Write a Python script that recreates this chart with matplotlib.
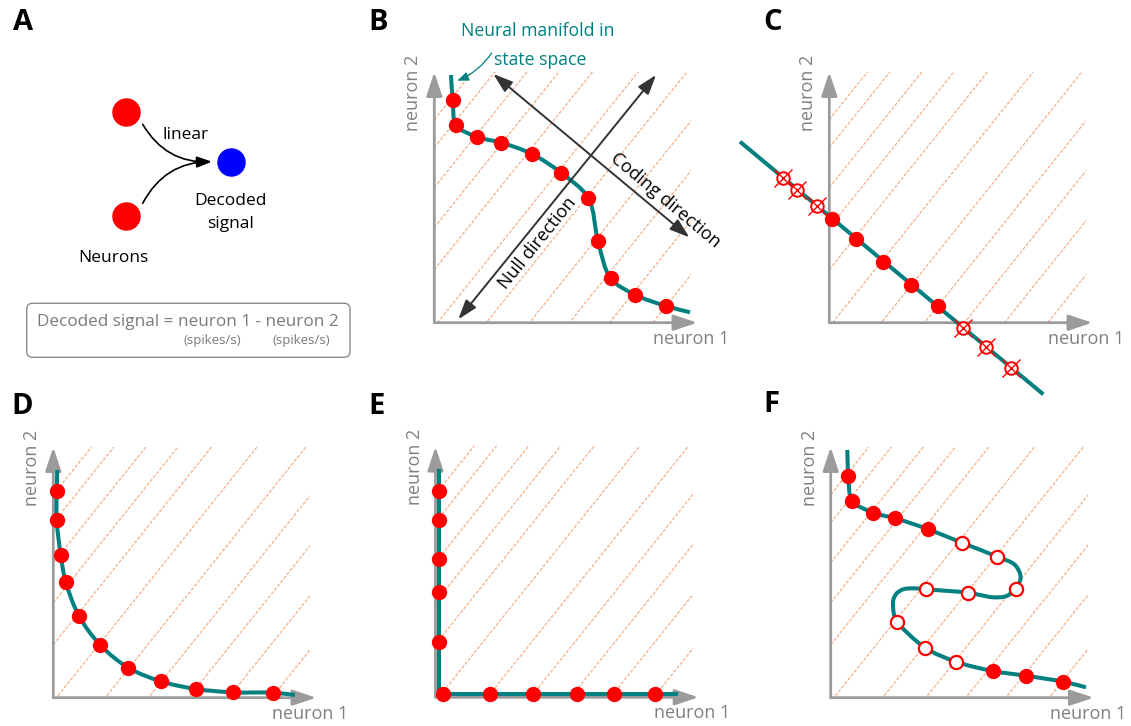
import numpy as np
import matplotlib
matplotlib.use("Agg")
import matplotlib.pyplot as plt
from matplotlib.path import Path
from matplotlib.patches import PathPatch, FancyArrowPatch, FancyBboxPatch, Rectangle

plt.rcParams['font.family'] = ['Open Sans', 'DejaVu Sans']

W, H = 1131, 726
TEAL = '#008080'
RED = '#ff0000'
BLUE = '#0000ff'
AXIS_GREY = '#9b9b9b'
LABEL_GREY = '#808080'
HATCH_ORANGE = '#f2a87c'

# ---------------- data (firing rates, arbitrary units) ----------------
# Level sets of the decoder drawn as background hatching
hatch_slope = 1.25
hatch_offsets = [20.3, 17.5, 13.5, 9.5, 5.3, -0.4, -6.5, -11.9, -16.9, -21.9, -27.3]
hatch_extent = (25.7, 25.1)
axis_extent = (26.3, 25.05)

# A: two neurons feeding a linear decoder
neuron_x = [126, 126]
neuron_y = [112.3, 215.7]
decoded_x = [231.3]
decoded_y = [161.7]

# B: curved manifold
b_n1 = [1.84, 2.2, 4.3, 6.7, 9.77, 12.7, 15.4, 16.37, 17.64, 20.07, 23.17]
b_n2 = [22.27, 19.74, 18.57, 18.0, 16.87, 14.97, 12.47, 8.14, 4.44, 2.8, 1.67]
b_start = (1.67, 24.77)
b_end = (25.57, 1.04)

# C: linear manifold crossing the axes
c_line_n1 = [-8.93, 21.4]
c_line_n2 = [18.1, -7.16]
c_valid_n1 = [0.24, 2.7, 5.4, 8.2, 10.84]
c_valid_n2 = [10.37, 8.37, 6.1, 3.77, 1.67]
c_invalid_n1 = [-4.66, -3.23, -1.26, 13.4, 15.64, 18.14]
c_invalid_n2 = [14.44, 13.27, 11.67, -0.56, -2.4, -4.5]

# D: hyperbolic manifold
d_n1 = [0.34, 0.34, 0.74, 1.24, 2.57, 4.7, 7.5, 10.74, 14.27, 17.94, 22.0]
d_n2 = [20.67, 17.77, 14.27, 11.6, 8.17, 5.27, 3.0, 1.64, 0.87, 0.54, 0.5]
d_start = (0.4, 22.77)
d_end = (24.17, 0.27)

# E: one neuron silent at a time
e_line_n1 = [0.35, 0.35, 24.28]
e_line_n2 = [22.8, 0.33, 0.33]
e_n1 = [0.35, 0.35, 0.35, 0.35, 0.35, 0.72, 5.45, 9.78, 14.12, 17.88, 21.95]
e_n2 = [20.63, 17.73, 13.83, 10.56, 5.5, 0.33, 0.33, 0.33, 0.33, 0.33, 0.33]

# F: folded manifold
f_curve_n1 = [1.66, 1.76, 2.16, 4.26, 6.46, 9.76, 13.1, 16.66, 18.43, 18.99, 18.76,
              18.5, 17.6, 16.26, 14.93, 13.7, 9.5, 8.26, 7.26, 6.6, 6.26, 6.26, 6.43,
              6.66, 9.43, 12.53, 16.2, 19.5, 23.23, 25.53]
f_curve_n2 = [24.77, 22.2, 19.7, 18.5, 17.94, 16.84, 15.5, 14.1, 13.27, 12.1, 11.27,
              10.9, 10.17, 10.04, 10.27, 10.5, 10.84, 10.94, 10.84, 10.44, 9.77, 8.77, 7.94,
              7.54, 5.0, 3.6, 2.67, 2.2, 1.6, 1.04]
f_single_n1 = [1.76, 2.16, 4.26, 6.46, 9.76, 16.2, 19.5, 23.23]
f_single_n2 = [22.2, 19.7, 18.5, 17.94, 16.84, 2.67, 2.2, 1.6]
f_ambig_n1 = [13.1, 16.66, 18.5, 13.7, 9.5, 6.66, 9.43, 12.53]
f_ambig_n2 = [15.5, 14.1, 10.9, 10.5, 10.84, 7.54, 5.0, 3.6]

# ---------------- helpers ----------------
fig = plt.figure(figsize=(W / 100, H / 100), dpi=100)

XLIM = (-10, 28)
YLIM = (-8, 32)
SCALE = 10.0  # pixels per unit


def panel_axes(ox, oy):
    left = (ox + XLIM[0] * SCALE) / W
    bottom = (H - oy + YLIM[0] * SCALE) / H
    width = (XLIM[1] - XLIM[0]) * SCALE / W
    height = (YLIM[1] - YLIM[0]) * SCALE / H
    ax = fig.add_axes([left, bottom, width, height])
    ax.set_xlim(*XLIM)
    ax.set_ylim(*YLIM)
    ax.axis('off')
    ax.patch.set_alpha(0)
    return ax


def smooth_path(xs, ys, alpha=0.5):
    """Centripetal Catmull-Rom spline through the knots, as cubic Bezier segments."""
    pts = np.column_stack([xs, ys]).astype(float)
    ext = np.vstack([2 * pts[0] - pts[1], pts, 2 * pts[-1] - pts[-2]])
    verts = [pts[0]]
    codes = [Path.MOVETO]
    for i in range(len(pts) - 1):
        p0, p1, p2, p3 = ext[i], ext[i + 1], ext[i + 2], ext[i + 3]
        d1 = max(np.linalg.norm(p1 - p0), 1e-6) ** alpha
        d2 = max(np.linalg.norm(p2 - p1), 1e-6) ** alpha
        d3 = max(np.linalg.norm(p3 - p2), 1e-6) ** alpha
        m1 = (p1 - p0) / d1 - (p2 - p0) / (d1 + d2) + (p2 - p1) / d2
        m2 = (p2 - p1) / d2 - (p3 - p1) / (d2 + d3) + (p3 - p2) / d3
        m1 *= d2
        m2 *= d2
        verts += [p1 + m1 / 3.0, p2 - m2 / 3.0, p2]
        codes += [Path.CURVE4] * 3
    return Path(verts, codes)


def draw_state_space(ax):
    clip = Rectangle((0, 0), hatch_extent[0], hatch_extent[1], transform=ax.transData,
                     facecolor='none', edgecolor='none')
    xs = np.array([-5.0, 35.0])
    for c in hatch_offsets:
        ln, = ax.plot(xs, hatch_slope * xs + c, color=HATCH_ORANGE, lw=0.8,
                      linestyle=(0, (3.0, 1.5)), zorder=1)
        ln.set_clip_path(clip)
    for tip in [(axis_extent[0], 0), (0, axis_extent[1])]:
        ax.add_patch(FancyArrowPatch((0, 0), tip,
                                     arrowstyle='-|>,head_length=0.72,head_width=0.24',
                                     mutation_scale=20, color=AXIS_GREY, lw=2.0,
                                     shrinkA=0, shrinkB=0, zorder=2))
    ax.text(-2.1, 23.0, 'neuron 2', rotation=90, ha='center', va='center',
            color=LABEL_GREY, fontsize=13)
    ax.text(25.7, -1.6, 'neuron 1', ha='center', va='center',
            color=LABEL_GREY, fontsize=13)


def draw_manifold(ax, xs, ys):
    ax.add_patch(PathPatch(smooth_path(xs, ys), facecolor='none', edgecolor=TEAL,
                           lw=2.9, capstyle='butt', zorder=3))


def filled_points(ax, xs, ys):
    ax.plot(xs, ys, 'o', ms=10, color=RED, mec=RED, zorder=5, clip_on=False)


def open_points(ax, xs, ys):
    ax.plot(xs, ys, 'o', ms=9.5, mfc='white', mec=RED, mew=1.6, zorder=5, clip_on=False)


def panel_letter(x, y, s):
    fig.text(x / W, 1 - y / H, s, fontsize=21, fontweight='bold', ha='center',
             va='center', color='black')


# ---------------- A ----------------
axA = fig.add_axes([0, (H - 370) / H, 370 / W, 370 / H])
axA.set_xlim(0, 370)
axA.set_ylim(370, 0)
axA.axis('off')
axA.patch.set_alpha(0)
axA.scatter(neuron_x, neuron_y, s=380, color=RED, zorder=3)
axA.scatter(decoded_x, decoded_y, s=380, color=BLUE, zorder=3)
for (sx, sy), rad in zip([(142.7, 124.3), (142.7, 203.3)], [0.3, -0.3]):
    axA.add_patch(FancyArrowPatch((sx, sy), (211.7, 161.7),
                                  connectionstyle=f'arc3,rad={rad}',
                                  arrowstyle='-|>,head_length=0.45,head_width=0.16',
                                  mutation_scale=20, color='black', lw=1.2,
                                  shrinkA=0, shrinkB=0))
axA.text(186, 135, 'linear', ha='center', va='center', fontsize=12.5)
axA.text(231, 200.7, 'Decoded', ha='center', va='center', fontsize=12.5)
axA.text(231, 224, 'signal', ha='center', va='center', fontsize=12.5)
axA.text(113.3, 258.3, 'Neurons', ha='center', va='center', fontsize=12.5)
axA.add_patch(FancyBboxPatch((26.7, 303.3), 323.3, 54, boxstyle='round,pad=0,rounding_size=6',
                             facecolor='white', edgecolor='#8a8a8a', lw=1.0))
axA.text(188, 321.7, 'Decoded signal = neuron 1 - neuron 2', ha='center', va='center',
         fontsize=12.3, color='#7a7a7a')
axA.text(212.3, 340.7, '(spikes/s)', ha='center', va='center', fontsize=9.5, color='#7a7a7a')
axA.text(301, 340.7, '(spikes/s)', ha='center', va='center', fontsize=9.5, color='#7a7a7a')
panel_letter(23, 22, 'A')

# ---------------- B ----------------
axB = panel_axes(434.3, 322.7)
draw_state_space(axB)
draw_manifold(axB, [b_start[0]] + b_n1 + [b_end[0]], [b_start[1]] + b_n2 + [b_end[1]])
filled_points(axB, b_n1, b_n2)
for start, end in [((5.9, 24.87), (25.5, 8.54)), ((22.17, 24.77), (2.4, 0.34))]:
    axB.add_patch(FancyArrowPatch(start, end,
                                  arrowstyle='<|-|>,head_length=0.6,head_width=0.2',
                                  mutation_scale=20, color='#333333', lw=1.4,
                                  shrinkA=0, shrinkB=0, zorder=4))
axB.text(23.14, 12.27, 'Coding direction', rotation=-40, ha='center', va='center',
         rotation_mode='anchor', fontsize=13, color='black')
axB.text(10.3, 7.94, 'Null direction', rotation=51, ha='center', va='center',
         rotation_mode='anchor', fontsize=13, color='black')
axB.text(10.34, 29.2, 'Neural manifold in', ha='center', va='center', fontsize=12.7, color=TEAL)
axB.text(10.57, 26.27, 'state space', ha='center', va='center', fontsize=12.7, color=TEAL)
axB.add_patch(FancyArrowPatch((5.74, 26.97), (2.3, 24.2), connectionstyle='arc3,rad=-0.15',
                              arrowstyle='-|>,head_length=0.45,head_width=0.18',
                              mutation_scale=15, color=TEAL, lw=0.9,
                              shrinkA=0, shrinkB=0, zorder=4))
panel_letter(378, 22, 'B')

# ---------------- C ----------------
axC = panel_axes(829.3, 322.7)
draw_state_space(axC)
axC.plot(c_line_n1, c_line_n2, color=TEAL, lw=2.9, solid_capstyle='butt', zorder=3,
         clip_on=False)
filled_points(axC, c_valid_n1, c_valid_n2)
axC.plot(c_invalid_n1, c_invalid_n2, 'o', ms=9, mfc='white', mec=RED, mew=1.4, zorder=5,
         clip_on=False)
axC.plot(c_invalid_n1, c_invalid_n2, 'x', ms=13, color=RED, mew=1.0, zorder=6, clip_on=False)
panel_letter(773, 23, 'C')

# ---------------- D ----------------
axD = panel_axes(53.3, 697.7)
draw_state_space(axD)
draw_manifold(axD, [d_start[0]] + d_n1 + [d_end[0]], [d_start[1]] + d_n2 + [d_end[1]])
filled_points(axD, d_n1, d_n2)
panel_letter(21.7, 406.7, 'D')

# ---------------- E ----------------
axE = panel_axes(435.5, 697.3)
draw_state_space(axE)
axE.plot(e_line_n1, e_line_n2, color=TEAL, lw=2.9, solid_capstyle='butt',
         solid_joinstyle='miter', zorder=3)
filled_points(axE, e_n1, e_n2)
panel_letter(377, 407, 'E')

# ---------------- F ----------------
axF = panel_axes(830.7, 697.7)
draw_state_space(axF)
draw_manifold(axF, f_curve_n1, f_curve_n2)
filled_points(axF, f_single_n1, f_single_n2)
open_points(axF, f_ambig_n1, f_ambig_n2)
panel_letter(771.7, 405, 'F')

fig.savefig('out.png', dpi=100)
